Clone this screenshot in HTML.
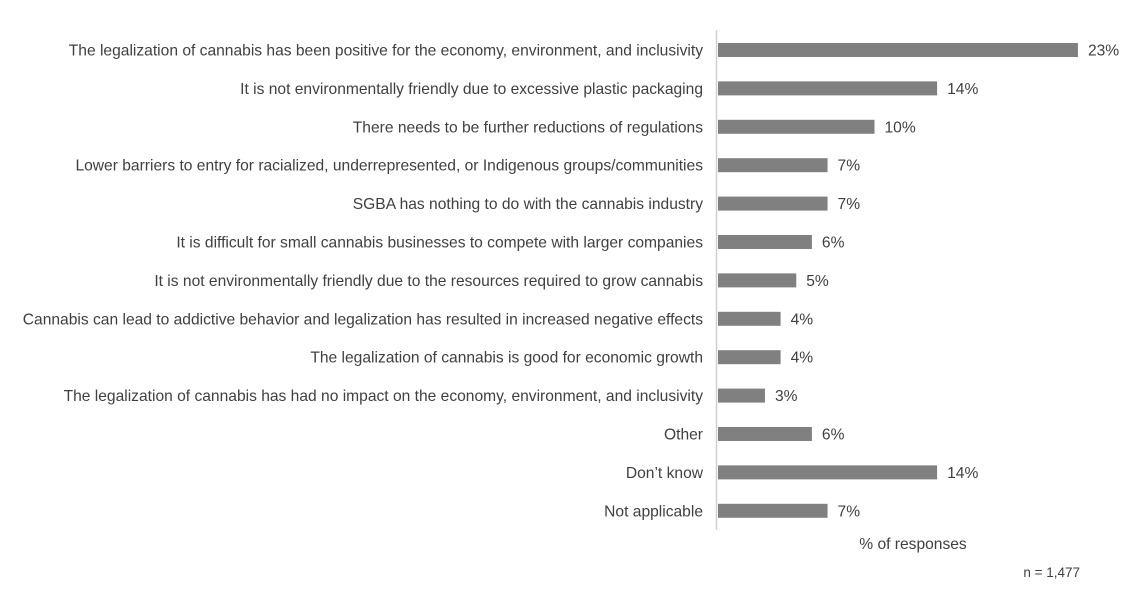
<!DOCTYPE html>
<html><head><meta charset="utf-8"><style>
body{margin:0;background:#fff;}
svg text{font-family:"Liberation Sans",sans-serif;font-size:15.6px;fill:#404040;}
</style></head><body>
<svg id="chart" width="1140" height="590" xmlns="http://www.w3.org/2000/svg">
<line x1="716.5" y1="30" x2="716.5" y2="530" stroke="#d0d0d0" stroke-width="1.5"/>
<g id="bars"></g>
<text x="913" y="549" text-anchor="middle">% of responses</text>
<text x="1080" y="577" text-anchor="end" style="font-size:13.5px">n = 1,477</text>
</svg>
<script>
const categories = [
"The legalization of cannabis has been positive for the economy, environment, and inclusivity",
"It is not environmentally friendly due to excessive plastic packaging",
"There needs to be further reductions of regulations",
"Lower barriers to entry for racialized, underrepresented, or Indigenous groups/communities",
"SGBA has nothing to do with the cannabis industry",
"It is difficult for small cannabis businesses to compete with larger companies",
"It is not environmentally friendly due to the resources required to grow cannabis",
"Cannabis can lead to addictive behavior and legalization has resulted in increased negative effects",
"The legalization of cannabis is good for economic growth",
"The legalization of cannabis has had no impact on the economy, environment, and inclusivity",
"Other",
"Don\u2019t know",
"Not applicable"];
const values = [23,14,10,7,7,6,5,4,4,3,6,14,7];
const valueLabels = ["23%","14%","10%","7%","7%","6%","5%","4%","4%","3%","6%","14%","7%"];
const NS="http://www.w3.org/2000/svg";
const x0=718, pxPer=15.65, y0=50, step=38.4, bh=14;
const xs=v=>x0+v*pxPer;
const ys=i=>y0+i*step;
const g=document.getElementById('bars');
categories.forEach((c,i)=>{
  const y=ys(i);
  const t=document.createElementNS(NS,'text');
  t.setAttribute('x',703);t.setAttribute('y',y+5.5);t.setAttribute('text-anchor','end');
  t.textContent=c;
  
  
  g.appendChild(t);
  const r=document.createElementNS(NS,'rect');
  r.setAttribute('x',x0);r.setAttribute('y',y-bh/2);
  r.setAttribute('width',xs(values[i])-x0);r.setAttribute('height',bh);
  r.setAttribute('fill','#808080');
  
  
  g.appendChild(r);
  const v=document.createElementNS(NS,'text');
  v.setAttribute('x',xs(values[i])+10);v.setAttribute('y',y+5.5);
  v.textContent=valueLabels[i];
  
  
  g.appendChild(v);
});
</script>
</body></html>
